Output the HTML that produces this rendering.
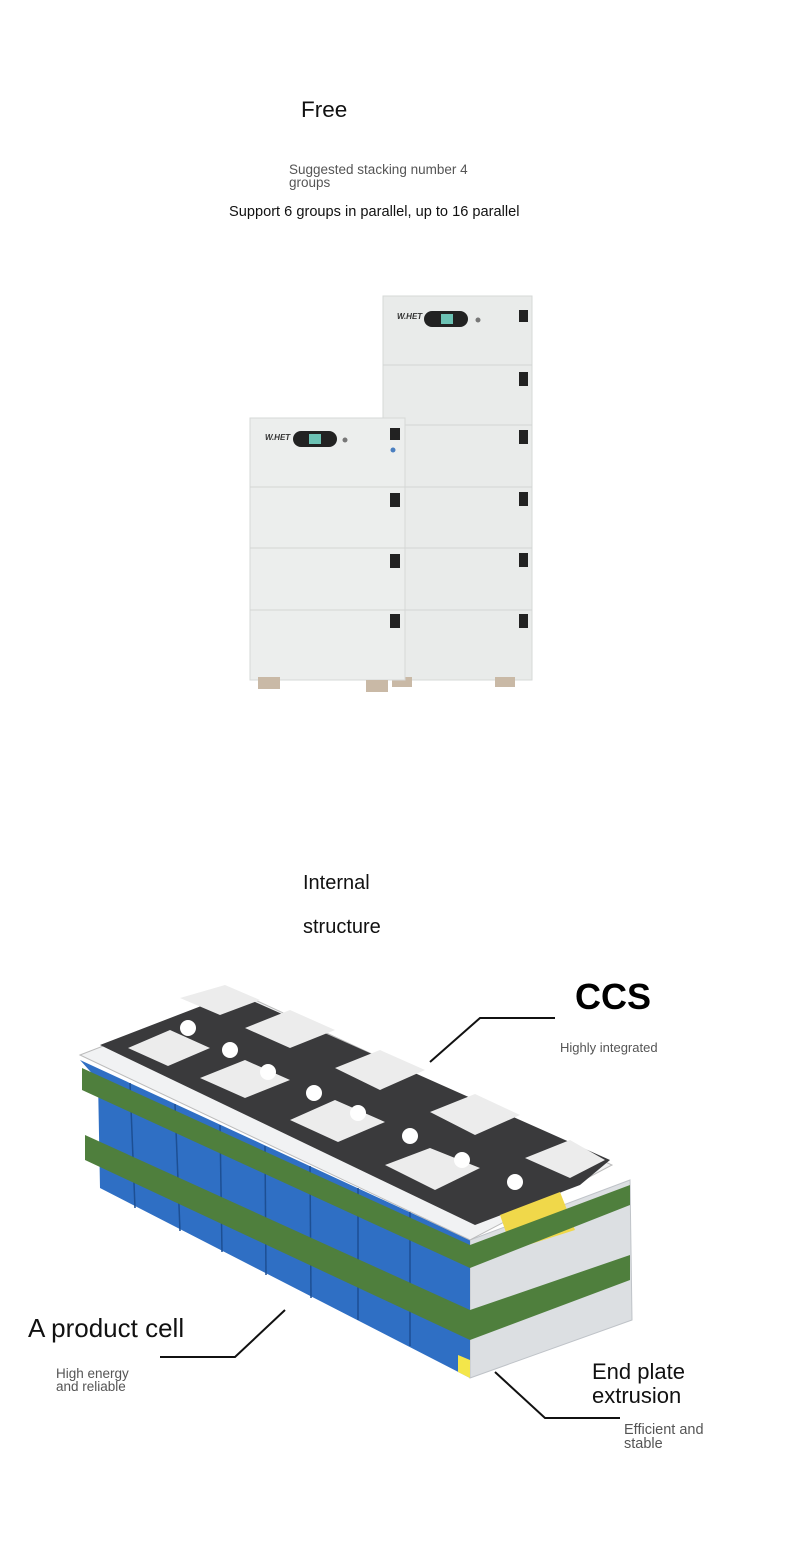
<!DOCTYPE html>
<html><head><meta charset="utf-8"><style>
html,body{margin:0;padding:0;background:#fff;}
body{width:790px;height:1544px;position:relative;overflow:hidden;font-family:"Liberation Sans",Arial,sans-serif;}
.t{position:absolute;white-space:nowrap;}
svg{position:absolute;left:0;top:0;}
</style></head><body>
<div class="t" style="left:301px;top:97px;font-size:22.5px;color:#111;">Free</div>
<div class="t" style="left:289px;top:163px;font-size:13.5px;color:#555;line-height:13px;">Suggested stacking number 4<br>groups</div>
<div class="t" style="left:229px;top:204px;font-size:14.6px;color:#111;">Support 6 groups in parallel, up to 16 parallel</div>

<svg width="790" height="1544" viewBox="0 0 790 1544">
  <rect x="383" y="296" width="149" height="384" fill="#e9ebea" stroke="#d6d8d7"/>
  <line x1="383" y1="365" x2="532" y2="365" stroke="#d3d5d4"/>
  <line x1="383" y1="425" x2="532" y2="425" stroke="#d3d5d4"/>
  <line x1="383" y1="487" x2="532" y2="487" stroke="#d3d5d4"/>
  <line x1="383" y1="548" x2="532" y2="548" stroke="#d3d5d4"/>
  <line x1="383" y1="610" x2="532" y2="610" stroke="#d3d5d4"/>
  <text x="397" y="319" font-size="8" font-style="italic" font-weight="bold" fill="#333" font-family="Liberation Sans">W.HET</text>
  <rect x="424" y="311" width="44" height="16" rx="8" fill="#222"/>
  <rect x="441" y="314" width="12" height="10" fill="#6cc2b4"/>
  <circle cx="478" cy="320" r="2.5" fill="#777"/>
  <rect x="519" y="310" width="9" height="12" fill="#222"/>
  <rect x="519" y="372" width="9" height="14" fill="#222"/>
  <rect x="519" y="430" width="9" height="14" fill="#222"/>
  <rect x="519" y="492" width="9" height="14" fill="#222"/>
  <rect x="519" y="553" width="9" height="14" fill="#222"/>
  <rect x="519" y="614" width="9" height="14" fill="#222"/>
  <rect x="495" y="677" width="20" height="10" fill="#c9b9a6"/>
  <rect x="392" y="677" width="20" height="10" fill="#c9b9a6"/>
  <rect x="250" y="418" width="155" height="262" fill="#eceeed" stroke="#d6d8d7"/>
  <line x1="250" y1="487" x2="405" y2="487" stroke="#d3d5d4"/>
  <line x1="250" y1="548" x2="405" y2="548" stroke="#d3d5d4"/>
  <line x1="250" y1="610" x2="405" y2="610" stroke="#d3d5d4"/>
  <text x="265" y="440" font-size="8" font-style="italic" font-weight="bold" fill="#333" font-family="Liberation Sans">W.HET</text>
  <rect x="293" y="431" width="44" height="16" rx="8" fill="#222"/>
  <rect x="309" y="434" width="12" height="10" fill="#6cc2b4"/>
  <circle cx="345" cy="440" r="2.5" fill="#777"/>
  <rect x="390" y="428" width="10" height="12" fill="#222"/>
  <circle cx="393" cy="450" r="2.5" fill="#4a7fc0"/>
  <rect x="390" y="493" width="10" height="14" fill="#222"/>
  <rect x="390" y="554" width="10" height="14" fill="#222"/>
  <rect x="390" y="614" width="10" height="14" fill="#222"/>
  <rect x="258" y="677" width="22" height="12" fill="#c9b9a6"/>
  <rect x="366" y="680" width="22" height="12" fill="#c9b9a6"/>

  <polygon points="470,1240 630,1180 632,1320 470,1378" fill="#dcdfe2" stroke="#bfc3c8"/>
  <polygon points="80,1060 470,1240 470,1378 100,1188 98,1080" fill="#2f6fc4"/>
  <g stroke="#1d4f93" stroke-width="1.5">
    <line x1="130" y1="1083" x2="135" y2="1208"/>
    <line x1="175" y1="1104" x2="180" y2="1231"/>
    <line x1="220" y1="1125" x2="222" y2="1252"/>
    <line x1="265" y1="1146" x2="266" y2="1275"/>
    <line x1="310" y1="1166" x2="311" y2="1298"/>
    <line x1="358" y1="1188" x2="358" y2="1320"/>
    <line x1="410" y1="1212" x2="410" y2="1346"/>
  </g>
  <polygon points="458,1355 470,1360 470,1378 458,1372" fill="#f3e64a"/>
  <polygon points="80,1055 240,993 612,1165 470,1240" fill="#f1f2f3" stroke="#bbb"/>
  <polygon points="100,1045 235,993 610,1160 580,1185 475,1225" fill="#3a3a3c"/>
  <g fill="#ececec">
    <polygon points="128,1048 170,1030 210,1048 168,1066"/>
    <polygon points="200,1078 245,1060 290,1080 245,1098"/>
    <polygon points="290,1120 335,1100 385,1122 338,1142"/>
    <polygon points="385,1165 430,1148 480,1168 435,1190"/>
    <polygon points="245,1028 290,1010 335,1030 290,1048"/>
    <polygon points="335,1068 380,1050 425,1070 380,1090"/>
    <polygon points="430,1112 475,1094 520,1115 475,1135"/>
    <polygon points="525,1158 570,1140 605,1160 570,1178"/>
    <polygon points="180,998 225,985 260,1000 220,1015"/>
  </g>
  <g fill="#fff">
    <circle cx="188" cy="1028" r="8"/><circle cx="230" cy="1050" r="8"/>
    <circle cx="268" cy="1072" r="8"/><circle cx="314" cy="1093" r="8"/>
    <circle cx="358" cy="1113" r="8"/><circle cx="410" cy="1136" r="8"/>
    <circle cx="462" cy="1160" r="8"/><circle cx="515" cy="1182" r="8"/>
  </g>
  <polygon points="500,1215 560,1192 575,1230 512,1250" fill="#f0d84a"/>
  <polygon points="82,1068 470,1245 630,1185 630,1205 470,1268 82,1090" fill="#4f7f3d"/>
  <polygon points="85,1135 470,1310 630,1255 630,1280 470,1340 85,1160" fill="#4f7f3d"/>

  <polyline points="430,1062 480,1018 555,1018" fill="none" stroke="#111" stroke-width="2"/>
  <polyline points="160,1357 235,1357 285,1310" fill="none" stroke="#111" stroke-width="2"/>
  <polyline points="495,1372 545,1418 620,1418" fill="none" stroke="#111" stroke-width="2"/>
</svg>

<div class="t" style="left:303px;top:872px;font-size:20px;color:#111;">Internal</div>
<div class="t" style="left:303px;top:916px;font-size:20px;color:#111;">structure</div>
<div class="t" style="left:575px;top:976px;font-size:36px;font-weight:bold;color:#000;">CCS</div>
<div class="t" style="left:560px;top:1040px;font-size:13px;color:#555;">Highly integrated</div>
<div class="t" style="left:28px;top:1313px;font-size:26px;color:#111;">A product cell</div>
<div class="t" style="left:56px;top:1367px;font-size:13.5px;color:#555;line-height:13px;">High energy<br>and reliable</div>
<div class="t" style="left:592px;top:1360px;font-size:22px;color:#111;line-height:24px;">End plate<br>extrusion</div>
<div class="t" style="left:624px;top:1423px;font-size:14.5px;color:#555;line-height:14px;">Efficient and<br>stable</div>
</body></html>
